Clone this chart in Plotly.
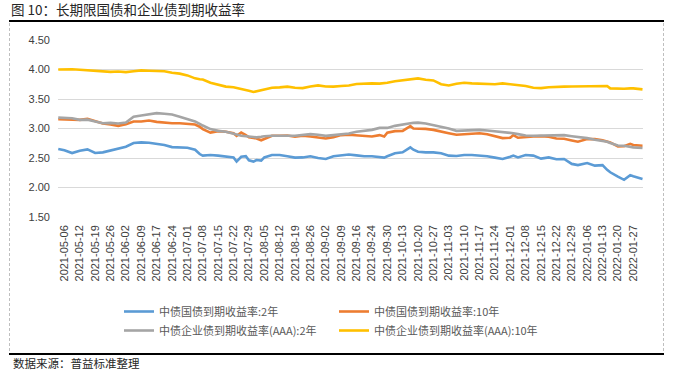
import plotly.graph_objects as go

# ---------------- data ----------------
tick_labels = [
    "2021-05-06", "2021-05-12", "2021-05-19", "2021-05-26", "2021-06-02", "2021-06-09",
    "2021-06-17", "2021-06-24", "2021-07-01", "2021-07-08", "2021-07-15", "2021-07-22",
    "2021-07-29", "2021-08-05", "2021-08-12", "2021-08-19", "2021-08-26", "2021-09-02",
    "2021-09-09", "2021-09-16", "2021-09-24", "2021-09-30", "2021-10-13", "2021-10-20",
    "2021-10-27", "2021-11-03", "2021-11-10", "2021-11-17", "2021-11-24", "2021-12-01",
    "2021-12-08", "2021-12-15", "2021-12-22", "2021-12-29", "2022-01-06", "2022-01-13",
    "2022-01-20", "2022-01-27",
]
# trading-day index of each tick label (one label every 5 trading days)
tick_day = [i * 5 for i in range(len(tick_labels))]

# trading-day index of each sampled observation (0 = 2021-05-06)
day = [
    -2, 0, 2.5, 5, 7.5, 10, 12.5, 15, 17.5, 20, 22.5, 25, 27.5, 30, 32.5, 35, 37.5, 40,
    42.5, 44, 45, 47.5, 50, 52.5, 55, 56, 57.5, 59, 60, 61.5, 62.5, 64, 65, 67.5, 70,
    72.5, 75, 77.5, 80, 82.5, 85, 87.5, 90, 92.5, 95, 97.5, 100, 102.5, 104, 105, 107.5,
    110, 112.5, 113.5, 115, 117.5, 120, 122.5, 125, 127.5, 130, 132.5, 135, 137.5, 140,
    142.5, 145, 146, 147.5, 150, 152.5, 155, 157.5, 160, 162.5, 165, 167, 170, 172.5,
    175, 176.5, 177.5, 180, 182, 184, 185, 188,
]

gov_2y = [
    2.652, 2.63, 2.584, 2.624, 2.646, 2.584, 2.596, 2.624, 2.663, 2.69, 2.753, 2.764,
    2.758, 2.736, 2.72, 2.685, 2.674, 2.674, 2.64, 2.567, 2.54, 2.55, 2.54, 2.53, 2.51,
    2.44, 2.52, 2.53, 2.46, 2.44, 2.466, 2.455, 2.51, 2.55, 2.55, 2.53, 2.506, 2.51,
    2.53, 2.50, 2.483, 2.53, 2.55, 2.56, 2.545, 2.53, 2.53, 2.52, 2.506, 2.53, 2.58,
    2.596, 2.68, 2.64, 2.607, 2.596, 2.596, 2.58, 2.54, 2.534, 2.55, 2.55, 2.54, 2.53,
    2.506, 2.483, 2.52, 2.54, 2.51, 2.55, 2.54, 2.49, 2.51, 2.478, 2.483, 2.40, 2.38,
    2.415, 2.37, 2.38, 2.30, 2.258, 2.185, 2.13, 2.21, 2.19, 2.146,
]

gov_10y = [
    3.157, 3.157, 3.157, 3.146, 3.163, 3.124, 3.084, 3.067, 3.045, 3.073, 3.118, 3.118,
    3.135, 3.112, 3.095, 3.09, 3.09, 3.084, 3.067, 3.03, 2.99, 2.93, 2.955, 2.944, 2.92,
    2.876, 2.93, 2.89, 2.85, 2.84, 2.83, 2.80, 2.82, 2.876, 2.876, 2.88, 2.86, 2.876,
    2.865, 2.843, 2.83, 2.854, 2.888, 2.895, 2.888, 2.876, 2.865, 2.888, 2.865, 2.93,
    2.955, 2.96, 3.04, 3.0, 3.0, 2.994, 2.977, 2.955, 2.92, 2.893, 2.904, 2.91, 2.92,
    2.904, 2.865, 2.837, 2.843, 2.888, 2.843, 2.86, 2.865, 2.87, 2.86, 2.83, 2.826,
    2.798, 2.775, 2.82, 2.82, 2.80, 2.785, 2.764, 2.696, 2.70, 2.74, 2.72, 2.708,
]

corp_aaa_2y = [
    3.185, 3.18, 3.175, 3.146, 3.15, 3.12, 3.09, 3.095, 3.085, 3.10, 3.20, 3.22, 3.236,
    3.26, 3.25, 3.236, 3.20, 3.16, 3.12, 3.08, 3.05, 2.99, 2.96, 2.944, 2.92, 2.90,
    2.876, 2.865, 2.86, 2.855, 2.85, 2.86, 2.87, 2.876, 2.87, 2.876, 2.876, 2.888,
    2.904, 2.893, 2.876, 2.888, 2.904, 2.915, 2.944, 2.96, 2.977, 3.01, 3.01, 3.01,
    3.045, 3.073, 3.09, 3.095, 3.10, 3.084, 3.06, 3.034, 3.00, 2.96, 2.966, 2.97, 2.977,
    2.966, 2.955, 2.944, 2.927, 2.92, 2.905, 2.882, 2.876, 2.876, 2.876, 2.888, 2.888,
    2.87, 2.858, 2.837, 2.81, 2.79, 2.775, 2.753, 2.713, 2.708, 2.69, 2.68, 2.67,
]

corp_aaa_10y = [
    4.00, 4.005, 4.005, 3.995, 3.985, 3.97, 3.96, 3.96, 3.965, 3.955, 3.97, 3.985, 3.98,
    3.98, 3.97, 3.945, 3.93, 3.90, 3.85, 3.835, 3.83, 3.775, 3.74, 3.71, 3.70, 3.69,
    3.675, 3.66, 3.64, 3.62, 3.63, 3.645, 3.657, 3.69, 3.697, 3.71, 3.69, 3.685, 3.713,
    3.73, 3.713, 3.71, 3.72, 3.73, 3.753, 3.764, 3.764, 3.76, 3.765, 3.775, 3.80, 3.82,
    3.83, 3.85, 3.85, 3.826, 3.815, 3.75, 3.73, 3.76, 3.775, 3.764, 3.76, 3.764, 3.75,
    3.764, 3.753, 3.745, 3.736, 3.72, 3.69, 3.685, 3.70, 3.71, 3.71, 3.713, 3.713,
    3.713, 3.72, 3.725, 3.72, 3.68, 3.674, 3.674, 3.68, 3.68, 3.663,
]

series_names = [
    "中债国债到期收益率:2年",
    "中债国债到期收益率:10年",
    "中债企业债到期收益率(AAA):2年",
    "中债企业债到期收益率(AAA):10年",
]
series_values = [gov_2y, gov_10y, corp_aaa_2y, corp_aaa_10y]
series_colors = ["#5B9BD5", "#ED7D31", "#A5A5A5", "#FFC000"]

title_text = "图 10：长期限国债和企业债到期收益率"
source_text = "数据来源：普益标准整理"

# ---------------- figure ----------------
W, H = 673, 374
ML, MR, MT, MB = 58, 30, 40, 157
PW, PH = W - ML - MR, H - MT - MB

def px_x(px):
    return (px - ML) / PW

def px_y(py):
    return (H - MB - py) / PH

CJK = "Noto Sans CJK SC"

fig = go.Figure()
for name, vals, col in zip(series_names, series_values, series_colors):
    fig.add_trace(go.Scatter(
        x=day, y=vals, name=name, mode="lines",
        line=dict(color=col, width=2.6, shape="linear"),
    ))

fig.update_layout(
    width=W, height=H,
    margin=dict(l=ML, r=MR, t=MT, b=MB, pad=0),
    paper_bgcolor="white", plot_bgcolor="white",
    title=dict(
        text=title_text,
        xref="container", yref="container",
        x=11 / W, xanchor="left",
        y=1 - 10.5 / H, yanchor="middle",
        pad=dict(t=0, b=0, l=0, r=0),
        font=dict(family=CJK, size=13.5, color="#262626"),
    ),
    showlegend=True,
    legend=dict(
        orientation="h",
        x=px_x(119), xanchor="left",
        y=px_y(297), yanchor="top",
        entrywidth=170, entrywidthmode="pixels",
        font=dict(family=CJK, size=11, color="#595959"),
        bgcolor="rgba(0,0,0,0)",
        itemwidth=30,
        tracegroupgap=0,
    ),
    xaxis=dict(
        range=[-2.08, 188.16],
        tickmode="array", tickvals=tick_day, ticktext=tick_labels,
        tickangle=-90,
        tickfont=dict(family="Liberation Sans, Arial", size=11, color="#404040"),
        showgrid=False, zeroline=False, showline=False, ticks="",
        ticklabelstandoff=5,
    ),
    yaxis=dict(
        range=[1.5, 4.5], dtick=0.5, tick0=1.5, tickformat=".2f",
        tickfont=dict(family="Liberation Sans, Arial", size=11, color="#404040"),
        showgrid=True, gridcolor="#D9D9D9", gridwidth=1,
        zeroline=False, showline=False, ticks="",
        ticklabelstandoff=7,
    ),
)

fig.add_annotation(
    text=source_text, xref="paper", yref="paper",
    x=px_x(12), y=px_y(354), xanchor="left", yanchor="top",
    showarrow=False, borderpad=0,
    font=dict(family=CJK, size=11.5, color="#262626"),
)

# frame lines
fig.add_shape(type="line", xref="paper", yref="paper",
              x0=px_x(9), x1=px_x(664), y0=px_y(21), y1=px_y(21),
              line=dict(color="black", width=2))
fig.add_shape(type="line", xref="paper", yref="paper",
              x0=px_x(9), x1=px_x(664), y0=px_y(354), y1=px_y(354),
              line=dict(color="black", width=2))
for xv in (9.5, 663.5):
    fig.add_shape(type="line", xref="paper", yref="paper",
                  x0=px_x(xv), x1=px_x(xv), y0=px_y(23), y1=px_y(352),
                  line=dict(color="#BFBFBF", width=1, dash="3px,2px"))

# remove the browser's default 8px page margin so the figure sits at (0, 0)
fig.write_html(
    "out.html",
    config={"displayModeBar": False},
    post_script="document.body.style.margin='0';document.body.style.overflow='hidden';",
)
